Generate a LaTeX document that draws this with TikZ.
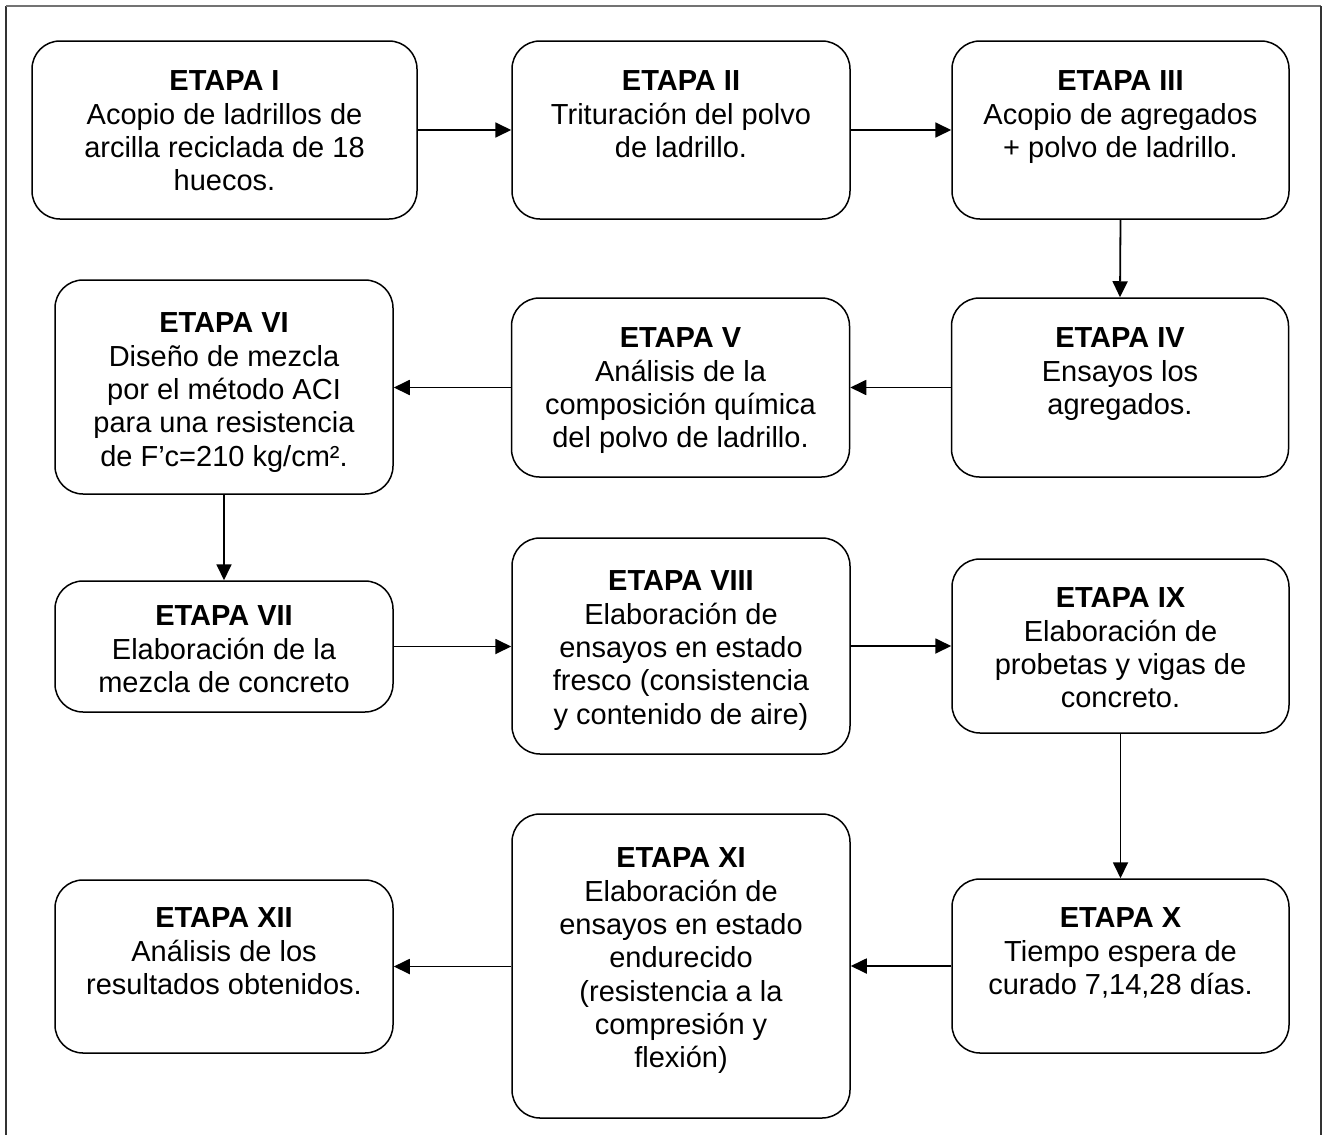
\documentclass[tikz,border=0pt]{standalone}
\usepackage{fontspec}
\setmainfont{Liberation Sans}
\usetikzlibrary{arrows.meta}
\begin{document}
\begin{tikzpicture}[x=1pt,y=-1pt,
  stagebox/.style={draw=black, line width=1.5pt, rounded corners=28pt, inner sep=0pt, fill=white},
  stagetext/.style={anchor=north, align=center, inner sep=0pt, font=\fontsize{29}{33.3}\selectfont},
  arr/.style={draw=black, line width=1.8pt, -{Triangle[length=16pt,width=15pt]}},
  frameline/.style={line width=1.5pt}]
\useasboundingbox (0,0) rectangle (1328,1135);
% frame
\coordinate (fbl) at (6,1140);
\coordinate (ftl) at (6,6);
\coordinate (ftr) at (1321,6);
\coordinate (fbr) at (1321,1140);
\draw[frameline, black!80] (fbl) -- (ftl);
\draw[frameline, black!55] (ftl) -- (ftr);
\draw[frameline, black!80] (ftr) -- (fbr);
% boxes
\node[stagebox, minimum width=385pt, minimum height=178pt] (b1) at (224.5,130) {};
\node[stagebox, minimum width=338pt, minimum height=178pt] (b2) at (681,130) {};
\node[stagebox, minimum width=337pt, minimum height=178pt] (b3) at (1120.5,130) {};
\node[stagebox, minimum width=337pt, minimum height=179pt] (b4) at (1120,387.5) {};
\node[stagebox, minimum width=338pt, minimum height=179pt] (b5) at (680.5,387.5) {};
\node[stagebox, minimum width=338pt, minimum height=214pt] (b6) at (224,387) {};
\node[stagebox, minimum width=338pt, minimum height=131pt] (b7) at (224,646.5) {};
\node[stagebox, minimum width=338pt, minimum height=216pt] (b8) at (681,646) {};
\node[stagebox, minimum width=337pt, minimum height=174pt] (b9) at (1120.5,646) {};
\node[stagebox, minimum width=337pt, minimum height=174pt] (b10) at (1120.5,966) {};
\node[stagebox, minimum width=338pt, minimum height=304pt] (b11) at (681,966) {};
\node[stagebox, minimum width=338pt, minimum height=173pt] (b12) at (224,966.5) {};
% texts
\node[stagetext] (t1) at (224.5,67.3) {\strut\textbf{ETAPA I}\\Acopio de ladrillos de\\arcilla reciclada de 18\\huecos.};
\node[stagetext] (t2) at (681,67.3) {\strut\textbf{ETAPA II}\\Trituración del polvo\\de ladrillo.};
\node[stagetext] (t3) at (1120.5,67.3) {\strut\textbf{ETAPA III}\\Acopio de agregados\\+ polvo de ladrillo.};
\node[stagetext] (t4) at (1120,324.3) {\strut\textbf{ETAPA IV}\\Ensayos los\\agregados.};
\node[stagetext] (t5) at (680.5,324.3) {\strut\textbf{ETAPA V}\\Análisis de la\\composición química\\del polvo de ladrillo.};
\node[stagetext] (t6) at (224,309.3) {\strut\textbf{ETAPA VI}\\Diseño de mezcla\\por el método ACI\\para una resistencia\\de F’c=210 kg/cm².};
\node[stagetext] (t7) at (224,602.3) {\strut\textbf{ETAPA VII}\\Elaboración de la\\mezcla de concreto};
\node[stagetext] (t8) at (681,567.3) {\strut\textbf{ETAPA VIII}\\Elaboración de\\ensayos en estado\\fresco (consistencia\\y contenido de aire)};
\node[stagetext] (t9) at (1120.5,584.3) {\strut\textbf{ETAPA IX}\\Elaboración de\\probetas y vigas de\\concreto.};
\node[stagetext] (t10) at (1120.5,904.3) {\strut\textbf{ETAPA X}\\Tiempo espera de\\curado 7,14,28 días.};
\node[stagetext] (t11) at (681,844.3) {\strut\textbf{ETAPA XI}\\Elaboración de\\ensayos en estado\\endurecido\\(resistencia a la\\compresión y\\flexión)};
\node[stagetext] (t12) at (224,904.3) {\strut\textbf{ETAPA XII}\\Análisis de los\\resultados obtenidos.};
% connectors
\draw[arr] (b1.east) -- (b2.west);
\draw[arr] (b2.east) -- (b3.west);
\draw[arr] (b3.south) -- (b4.north);
\draw[arr] (b4.west) -- (b5.east);
\draw[arr] (b5.west) -- (b5.west -| b6.east);
\draw[arr] (b6.south) -- (b7.north);
\draw[arr] (b7.east) -- (b7.east -| b8.west);
\draw[arr] (b8.east) -- (b8.east -| b9.west);
\draw[arr] (b9.south) -- (b10.north);
\draw[arr] (b10.west) -- (b10.west -| b11.east);
\draw[arr] (b12.east -| b11.west) -- (b12.east);
\end{tikzpicture}
\end{document}
